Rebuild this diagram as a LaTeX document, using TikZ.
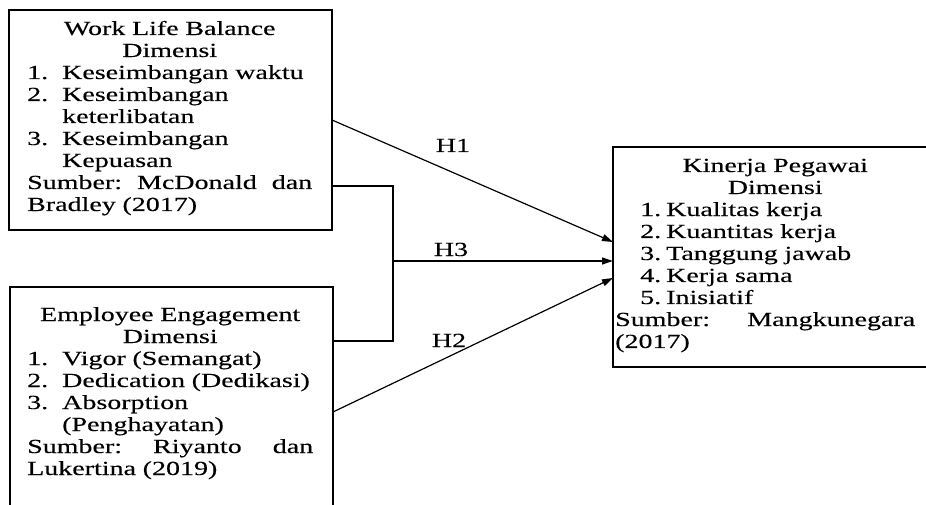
\documentclass[tikz,border=0pt]{standalone}
\usepackage{fontspec}
\setmainfont{Liberation Serif}[FakeStretch=1.4,FakeBold=0.3]
\usetikzlibrary{arrows.meta,calc}
\setlength\parindent{0pt}
\begin{document}
\begin{tikzpicture}[x=1pt,y=-1pt,
  box/.style={draw, line width=1.2pt, inner sep=0pt, outer sep=0pt, anchor=north west},
  txt/.style={inner sep=0pt, anchor=base west, font=\fontsize{20}{22}\selectfont},
  lab/.style={inner sep=0pt, anchor=base, font=\fontsize{20}{22}\selectfont},
  ln/.style={line width=1.2pt},
  arr/.style={line width=1.2pt, -{Triangle[length=11pt,width=7pt]}}]
\useasboundingbox (0,0) rectangle (926,505);
% boxes
\node[box, minimum width=323pt, minimum height=220pt] (wlb) at (9,10) {};
\node[box, minimum width=323pt, minimum height=240pt] (ee) at (10,287) {};
\node[box, minimum width=324pt, minimum height=220pt] (kp) at (613,147) {};
% texts
\node[txt, text width=285pt] (wlbt) at (27,35) {%
{\centering Work Life Balance\\Dimensi\par}
\raggedright
\makebox[35pt][l]{1.}Keseimbangan waktu\\
\makebox[35pt][l]{2.}Keseimbangan\\
\hspace*{35pt}keterlibatan\\
\makebox[35pt][l]{3.}Keseimbangan\\
\hspace*{35pt}Kepuasan\\
\makebox[285pt][l]{Sumber:\hfill McDonald\hfill dan}\\
Bradley (2017)};
\node[txt, text width=286pt] (eet) at (27,321) {%
{\centering Employee Engagement\\Dimensi\par}
\raggedright
\makebox[35pt][l]{1.}Vigor (Semangat)\\
\makebox[35pt][l]{2.}Dedication (Dedikasi)\\
\makebox[35pt][l]{3.}Absorption\\
\hspace*{35pt}(Penghayatan)\\
\makebox[286pt][l]{Sumber:\hfill Riyanto\hfill dan}\\
Lukertina (2019)};
\node[txt, text width=320pt] (kpt) at (615,172) {%
{\centering Kinerja Pegawai\\Dimensi\par}
\raggedright
\hspace*{25pt}\makebox[26pt][l]{1.}Kualitas kerja\\
\hspace*{25pt}\makebox[26pt][l]{2.}Kuantitas kerja\\
\hspace*{25pt}\makebox[26pt][l]{3.}Tanggung jawab\\
\hspace*{25pt}\makebox[26pt][l]{4.}Kerja sama\\
\hspace*{25pt}\makebox[26pt][l]{5.}Inisiatif\\
\makebox[300pt][l]{Sumber:\hfill Mangkunegara}\\
(2017)};
% connectors
\coordinate (b1) at (393,186);
\coordinate (b2) at (393,341);
\coordinate (j) at (393,261);
\coordinate (h2s) at (333,412);
\draw[ln] (b1 -| wlb.east) -- (b1) -- (b2) -- (b2 -| ee.east);
\draw[arr] (wlb.east) -- ($(kp.west)+(0,-15)$);
\draw[arr] (j) -- (j -| kp.west);
\draw[arr] (h2s -| ee.east) -- ($(kp.west)+(0,21)$);
% labels
\node[lab] (h1) at (453,152) {H1};
\node[lab] (h3) at (451,256) {H3};
\node[lab] (h2) at (449,347) {H2};
\end{tikzpicture}
\end{document}
